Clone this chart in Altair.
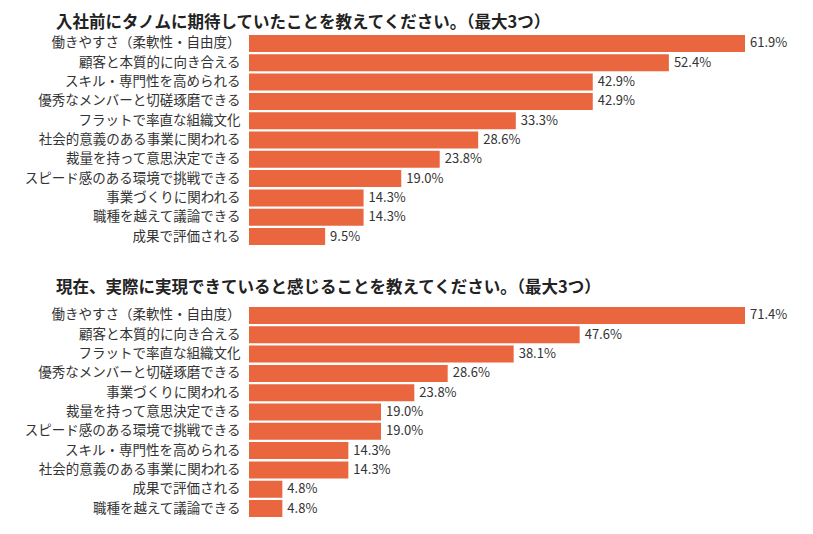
import altair as alt
import pandas as pd

title1 = "入社前にタノムに期待していたことを教えてください。（最大3つ）"
cats1 = ["働きやすさ（柔軟性・自由度）", "顧客と本質的に向き合える", "スキル・専門性を高められる",
         "優秀なメンバーと切磋琢磨できる", "フラットで率直な組織文化", "社会的意義のある事業に関われる",
         "裁量を持って意思決定できる", "スピード感のある環境で挑戦できる", "事業づくりに関われる",
         "職種を越えて議論できる", "成果で評価される"]
vals1 = [61.9, 52.4, 42.9, 42.9, 33.3, 28.6, 23.8, 19.0, 14.3, 14.3, 9.5]

title2 = "現在、実際に実現できていると感じることを教えてください。（最大3つ）"
cats2 = ["働きやすさ（柔軟性・自由度）", "顧客と本質的に向き合える", "フラットで率直な組織文化",
         "優秀なメンバーと切磋琢磨できる", "事業づくりに関われる", "裁量を持って意思決定できる",
         "スピード感のある環境で挑戦できる", "スキル・専門性を高められる", "社会的意義のある事業に関われる",
         "成果で評価される", "職種を越えて議論できる"]
vals2 = [71.4, 47.6, 38.1, 28.6, 23.8, 19.0, 19.0, 14.3, 14.3, 4.8, 4.8]

FONT = "Noto Sans CJK JP"
BAR = "#E9663E"


def panel(title, cats, vals, offset):
    df = pd.DataFrame({"cat": cats, "val": vals,
                       "lab": [f"{v:.1f}%" for v in vals]})
    base = alt.Chart(df).encode(
        y=alt.Y("cat:N", sort=cats, title=None,
                scale=alt.Scale(paddingInner=0.12, paddingOuter=0.05),
                axis=alt.Axis(domain=False, ticks=False, grid=False,
                              labelFont=FONT, labelFontSize=13.5,
                              labelColor="#333333", labelPadding=9,
                              labelLimit=0)),
        x=alt.X("val:Q", title=None,
                scale=alt.Scale(domain=[0, max(vals)], nice=False, zero=True),
                axis=None),
    )
    bars = base.mark_bar(color=BAR)
    text = base.mark_text(align="left", baseline="middle", dx=5,
                          font=FONT, fontSize=13, color="#333333").encode(text="lab:N")
    return alt.layer(bars, text).properties(
        width=496, height=212,
        title=alt.TitleParams(title, anchor="start", frame="group", dx=-193,
                              font=FONT, fontSize=16.5, fontWeight="bold",
                              color="#222222", offset=offset),
    )


chart = alt.vconcat(panel(title1, cats1, vals1, 3), panel(title2, cats2, vals2, 10),
                    spacing=33).properties(
    padding={"left": 16, "top": 6, "right": 5, "bottom": 5}
).configure_view(stroke=None)

chart.save("out.html", embed_options={"renderer": "svg", "actions": False})
